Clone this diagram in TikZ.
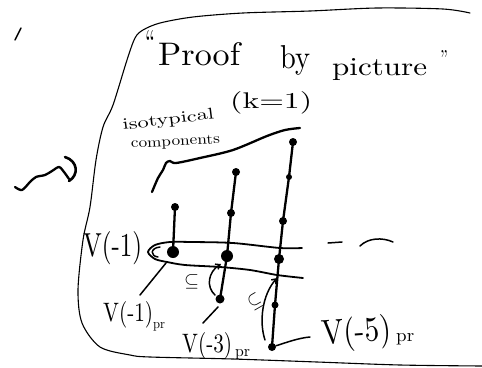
\documentclass[tikz,border=0pt]{standalone}
\usepackage{graphicx}
\usetikzlibrary{arrows.meta}
\newcommand{\hwbox}[3]{\resizebox{#1pt}{#2pt}{#3}}
\begin{document}
\begin{tikzpicture}[x=1pt,y=-1pt,
  outline/.style={line width=1.1pt, line cap=round, line join=round},
  stroke/.style={line width=2.3pt, line cap=round, line join=round},
  pen/.style={line width=1.5pt, line cap=round, line join=round},
  dot/.style={circle, fill=black, inner sep=0pt, minimum size=#1},
  txt/.style={inner sep=0pt, anchor=base west},
  barb/.style={-{Straight Barb[length=4pt,width=6pt]}},
]
\useasboundingbox (0,0) rectangle (482,367);

% page mark
\coordinate (m1) at (15,40);
\coordinate (m2) at (21,28);
\draw[pen] (m1) -- (m2);

% squiggle arrow
\draw[stroke] plot[smooth] coordinates {(15,187) (22,190) (30,182) (36,177) (45,175) (52,171) (59,167) (64,172) (69,179)};
\draw[stroke, line width=2.6pt] (65,157) .. controls (78,161) and (79,175) .. (69,181);

% blob outline
\draw[outline] plot[smooth] coordinates {(470,13) (443,9) (377,8) (310,11) (243,13) (193,17) (160,23) (143,30) (135,38) (127,60) (113,105) (103,127) (96,160) (90,207) (83,240) (78,290) (82,323) (100,347) (130,355) (150,357) (233,359) (317,362) (400,365) (482,366)};

% title
\node[txt] (q1) at (145,53) {\hwbox{10}{23}{``}};
\node[txt] (w1) at (158,65) {\hwbox{82}{23}{Proof}};
\node[txt] (w2) at (280,68) {\hwbox{30}{23}{by}};
\node[txt] (w3) at (332,75) {\hwbox{95}{17}{picture}};
\node[txt] (q2) at (440,66) {\hwbox{8}{16}{''}};
\node[txt] (k) at (230,108) {\hwbox{82}{17}{(k=1)}};

% isotypical components
\node[txt, rotate=7] (iso) at (123,130) {\hwbox{92}{11}{isotypical}};
\node[txt, rotate=3] (comp) at (131,148) {\hwbox{89}{9}{components}};
\draw[stroke] plot[smooth] coordinates {(152,192) (158,178) (163,170) (166,163) (170,161) (176,163) (200,158) (233,150) (267,136) (285,130) (300,128)};

% points
\coordinate (a1) at (175,207);
\coordinate (a2) at (173,252);
\coordinate (b1) at (236,172);
\coordinate (b2) at (231,213);
\coordinate (b3) at (227,256);
\coordinate (b4) at (220,299);
\coordinate (c1) at (293,142);
\coordinate (c2) at (289,177);
\coordinate (c3) at (283,221);
\coordinate (c4) at (279,259);
\coordinate (c5) at (275,305);
\coordinate (c6) at (272,347);

% vertical lines
\draw[stroke] (a1) -- (a2);
\draw[stroke] (b1) -- (b2) -- (b3) -- (b4);
\draw[stroke] (c1) -- (c2) -- (c3) -- (c4) -- (c5) -- (c6);

% dots
\node[dot=8pt] (da1) at (a1) {};
\node[dot=12pt] (da2) at (a2) {};
\node[dot=8pt] (db1) at (b1) {};
\node[dot=8pt] (db2) at (b2) {};
\node[dot=12pt] (db3) at (b3) {};
\node[dot=9pt] (db4) at (b4) {};
\node[dot=8pt] (dc1) at (c1) {};
\node[dot=6pt] (dc2) at (c2) {};
\node[dot=8pt] (dc3) at (c3) {};
\node[dot=10pt] (dc4) at (c4) {};
\node[dot=7pt] (dc5) at (c5) {};
\node[dot=8pt] (dc6) at (c6) {};

% loop around V(-1)
\draw[stroke, line width=1.8pt] plot[smooth] coordinates {(302,248) (280,248) (233,243) (192,242) (170,242) (155,245) (148,252) (155,259) (167,262) (185,265) (220,267) (250,270) (277,275) (303,278)};
\draw[pen] (160,247) .. controls (150,248) and (150,256) .. (158,257);

% dashes
\draw[pen] (328,243) -- (342,242);
\draw[pen] (360,246) .. controls (368,238) and (382,237) .. (393,242);

% labels
\node[txt] (V1) at (83,256) {\hwbox{59}{25}{V(-1)}};
\node[txt] (V1pr) at (103,321) {\hwbox{50}{20}{V(-1)}};
\node[txt] (V1s) at (153,328) {\hwbox{12}{6}{pr}};
\node[txt] (V3pr) at (182,352) {\hwbox{50}{20}{V(-3)}};
\node[txt] (V3s) at (235,356) {\hwbox{15}{7}{pr}};
\node[txt, rotate=4] (V5pr) at (322,345) {\hwbox{70}{26}{V(-5)}};
\node[txt] (V5s) at (396,341) {\hwbox{18}{8}{pr}};

% pointers
\coordinate (p1a) at (166,263);
\coordinate (p1b) at (140,295);
\draw[pen] (p1a) -- (p1b);
\coordinate (p3a) at (218,307);
\coordinate (p3b) at (203,323);
\draw[pen] (p3a) -- (p3b);
\coordinate (p5b) at (310,337);
\draw[pen] (dc6) .. controls (285,343) and (298,338) .. (p5b);

% inclusion marks
\node[txt] (s1) at (184,286) {\hwbox{15}{12}{$\subseteq$}};
\draw[pen, barb] (215,295) .. controls (206,287) and (208,272) .. (221,264);
\node[rotate=30, inner sep=0pt] (s2) at (255,302) {\hwbox{13}{13}{$\subseteq$}};
\draw[pen, barb] (265,340) .. controls (259,322) and (262,295) .. (277,278);
\end{tikzpicture}
\end{document}
